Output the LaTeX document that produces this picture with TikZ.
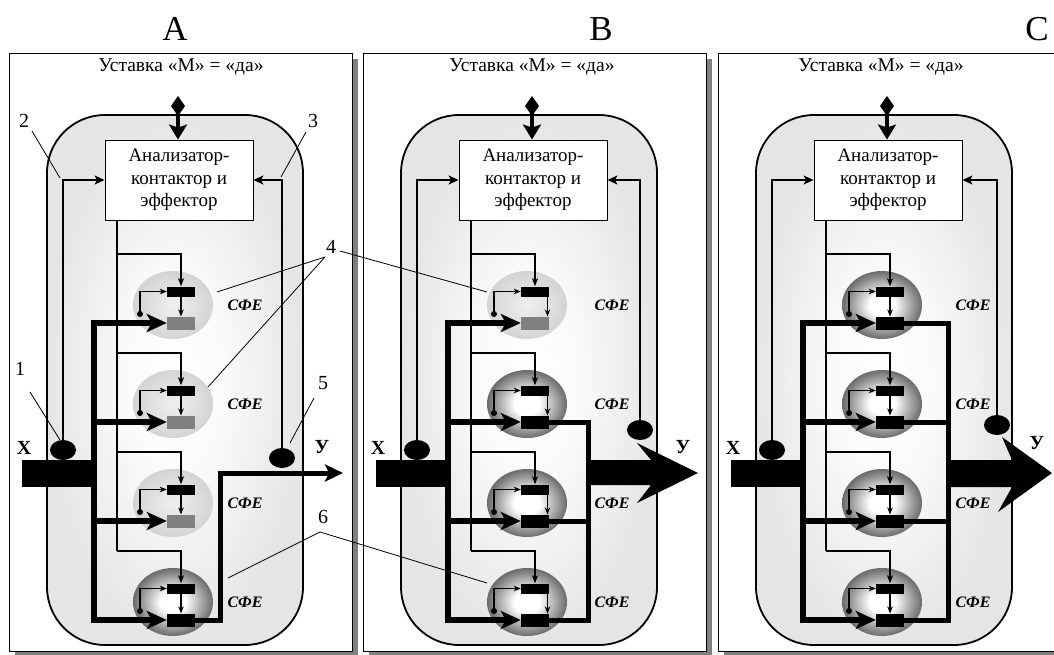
\documentclass[tikz,border=0pt]{standalone}
\usepackage{fontspec}
\setmainfont{Liberation Serif}
\usetikzlibrary{arrows.meta,calc,shapes.geometric}

% soft fills: chamber background, idle and working functional units
\pgfdeclareradialshading{chamber}{\pgfpoint{0bp}{0bp}}{color(0bp)=(white); color(10bp)=(black!2); color(25bp)=(black!10); color(50bp)=(black!10)}
\pgfdeclareradialshading{idleunit}{\pgfpoint{0bp}{0bp}}{color(0bp)=(black!6); color(25bp)=(black!17); color(50bp)=(black!17)}
\pgfdeclareradialshading{workunit}{\pgfpoint{0bp}{0bp}}{color(0bp)=(white); color(8bp)=(white); color(18bp)=(black!35); color(25bp)=(black!58); color(50bp)=(black!58)}

\tikzset{
  panelframe/.style={draw=black,line width=0.9pt,fill=white},
  panelshadow/.style={fill=black!50},
  chamberwall/.style={draw=black,line width=1.8pt,rounded corners=58pt,shading=chamber},
  ctrlbox/.style={draw=black,line width=0.9pt,fill=white,minimum width=148pt,minimum height=80pt,inner sep=0pt,align=center,font=\fontsize{19}{22.5}\selectfont},
  headtext/.style={anchor=base,inner sep=0pt,font=\fontsize{19.5}{22}\selectfont},
  bigletter/.style={anchor=base,inner sep=0pt,font=\fontsize{35}{40}\selectfont},
  numtext/.style={inner sep=0pt,font=\fontsize{20}{22}\selectfont},
  iotext/.style={inner sep=0pt,font=\fontsize{20}{22}\selectfont\bfseries},
  unittext/.style={inner sep=0pt,font=\fontsize{16}{18}\selectfont\bfseries\itshape},
  unitball/.style={ellipse,minimum width=80pt,minimum height=68pt,inner sep=0pt,shade,shading=#1},
  topbar/.style={rectangle,fill=black,minimum width=28pt,minimum height=10pt,inner sep=0pt},
  lowbar/.style={rectangle,fill=#1,minimum width=28pt,minimum height=13pt,inner sep=0pt},
  sensor/.style={ellipse,fill=black,minimum width=26pt,minimum height=20pt,inner sep=0pt},
  xbar/.style={rectangle,fill=black,minimum width=72pt,minimum height=27pt,inner sep=0pt},
  fbline/.style={line width=1.5pt,-{Stealth[length=10pt,width=9pt,inset=2.5pt]}},
  trunkline/.style={line width=2pt},
  tapline/.style={line width=1.3pt,-{Stealth[length=8pt,width=6pt,inset=2pt]}},
  loopline/.style={line width=1.2pt,-{Stealth[length=7pt,width=5.5pt,inset=2pt]}},
  setline/.style={line width=4pt,{Diamond[length=20pt,width=14pt]}-{Stealth[length=15pt,width=18pt,inset=3pt]}},
  busline/.style={line width=6.5pt,line cap=rect},
  feedarrow/.style={line width=6.5pt,-{Stealth[length=20pt,width=18pt,inset=5pt]}},
  outline/.style={line width=5pt,line join=miter},
  leader/.style={line width=0.8pt},
}

% frame, chamber, controller and sensors of one panel
% #1 name, #2 x offset, #3 header x, #4 outlet sensor, #5 outlet label
\newcommand\panelbase[5]{%
  \fill[panelshadow] (#2+15,59) rectangle (#2+358,657);
  \draw[panelframe] (#2+9,53) rectangle (#2+352,651);
  \node[headtext] (#1-head) at (#3,72) {Уставка «М» = «да»};
  \shadedraw[chamberwall] (#2+47,115) rectangle (#2+303,645);
  \node[ctrlbox] (#1-box) at (#2+179,180) {Анализатор-\\контактор и\\эффектор};
  \coordinate (#1-set) at (#2+178,96);
  \draw[setline] (#1-set) -- (#1-set |- #1-box.north);
  \node[xbar] (#1-x) at (#2+58,473.5) {};
  \node[sensor] (#1-s1) at (#2+63,450) {};
  \node[sensor] (#1-s5) at (#4) {};
  \node[iotext] (#1-xl) at (#2+24,448) {X};
  \node[iotext] (#1-yl) at (#5) {У};
  \draw[fbline] (#1-s1.center) |- (#1-box.west);
  \draw[fbline] (#1-s5.center) |- (#1-box.east);
}

% one functional unit with its control tap and input feed
% #1 panel, #2 index, #3 cx, #4 cy, #5 shading, #6 lower bar fill,
% #7 offset of the inner arrow, #8 panel x offset, #9 label x
\newcommand\sfecell[9]{%
  \node[unitball=#5] (#1-u#2) at (#3,#4) {};
  \node[topbar] (#1-t#2) at (#3+8,#4-13.5) {};
  \node[lowbar=#6] (#1-b#2) at (#3+8,#4+18) {};
  \coordinate (#1-p#2) at (#3+8+#7,#4-8.5);
  \coordinate (#1-q#2) at (#3+8+#7,#4+11.5);
  \draw[loopline] (#1-p#2) -- (#1-q#2);
  \coordinate (#1-d#2) at (#3-33,#4+9);
  \fill (#1-d#2) circle (3);
  \draw[loopline] (#1-d#2) |- (#1-t#2.west);
  \node[unittext] (#1-l#2) at (#9,#4) {СФЕ};
  \coordinate (#1-k#2) at (#8+117,#4-51);
  \draw[tapline] (#1-k#2) -| (#1-t#2.north);
  \coordinate (#1-j#2) at (#8+94,#4+18);
  \draw[feedarrow] (#1-j#2) -- (#1-b#2.west);
}

\begin{document}
\begin{tikzpicture}[x=1pt,y=-1pt]
\useasboundingbox (0,0) rectangle (1054,655);
\clip (0,0) rectangle (1054,655);

% ---------- A: one unit working ----------
\panelbase{A}{0}{181}{282,458}{322,447}
\sfecell{A}{1}{173}{305}{idleunit}{black!50}{0}{0}{245}
\sfecell{A}{2}{173}{404}{idleunit}{black!50}{0}{0}{245}
\sfecell{A}{3}{173}{503}{idleunit}{black!50}{0}{0}{245}
\sfecell{A}{4}{173}{602}{workunit}{black}{0}{0}{245}
\coordinate (A-k0) at (117,220);
\draw[trunkline] (A-k0) -- (A-k4);
\draw[busline] (A-j1) -- (A-j4);
\coordinate (A-ov) at (220,473);
\coordinate (A-yt) at (343,473);
\draw[outline,-{Stealth[length=18pt,width=17pt,inset=4pt]}] (A-b4.east) -| (A-ov) -- (A-yt);

% ---------- B: three units working ----------
\panelbase{B}{354}{532}{640,430}{683,447}
\sfecell{B}{1}{527}{305}{idleunit}{black!50}{12.5}{354}{612}
\sfecell{B}{2}{527}{404}{workunit}{black}{12.5}{354}{612}
\sfecell{B}{3}{527}{503}{workunit}{black}{12.5}{354}{612}
\sfecell{B}{4}{527}{602}{workunit}{black}{12.5}{354}{612}
\coordinate (B-k0) at (471,220);
\draw[trunkline] (B-k0) -- (B-k4);
\draw[busline] (B-j1) -- (B-j4);
\coordinate (B-c2) at (588,422);
\coordinate (B-c3) at (588,521);
\coordinate (B-c4) at (588,620);
\draw[outline,line cap=rect] (B-c2) -- (B-c4);
\draw[outline] (B-b2.east) -- (B-c2);
\draw[outline] (B-b3.east) -- (B-c3);
\draw[outline] (B-b4.east) -- (B-c4);
\coordinate (B-yo) at (588,473);
\fill (B-yo) +(0,-13) -- +(63,-13) -- +(49,-30) -- +(110,0) -- +(49,30) -- +(63,12) -- +(0,12) -- cycle;

% ---------- C: all units working ----------
\panelbase{C}{709}{881}{997,425}{1037,443}
\sfecell{C}{1}{882}{305}{workunit}{black}{0}{709}{973}
\sfecell{C}{2}{882}{404}{workunit}{black}{0}{709}{973}
\sfecell{C}{3}{882}{503}{workunit}{black}{0}{709}{973}
\sfecell{C}{4}{882}{602}{workunit}{black}{0}{709}{973}
\coordinate (C-k0) at (826,220);
\draw[trunkline] (C-k0) -- (C-k4);
\draw[busline] (C-j1) -- (C-j4);
\coordinate (C-c1) at (948,323);
\coordinate (C-c2) at (948,422);
\coordinate (C-c3) at (948,521);
\coordinate (C-c4) at (948,620);
\draw[outline,line cap=rect] (C-c1) -- (C-c4);
\draw[outline] (C-b1.east) -- (C-c1);
\draw[outline] (C-b2.east) -- (C-c2);
\draw[outline] (C-b3.east) -- (C-c3);
\draw[outline] (C-b4.east) -- (C-c4);
\coordinate (C-yo) at (948,473);
\fill (C-yo) +(0,-13) -- +(64,-13) -- +(54,-36) -- +(104,0) -- +(50,39) -- +(64,14) -- +(0,14) -- cycle;

% ---------- panel letters ----------
\node[bigletter] (lblA) at (175,41) {A};
\node[bigletter] (lblB) at (601,41) {B};
\node[bigletter] (lblC) at (1037,41) {C};

% ---------- callout numbers ----------
\node[numtext] (n1) at (20,369) {1};
\node[numtext] (n2) at (24,121) {2};
\node[numtext] (n3) at (313,121) {3};
\node[numtext] (n4) at (331,247) {4};
\node[numtext] (n5) at (323,383) {5};
\node[numtext] (n6) at (323,517) {6};
\coordinate (n1a) at (30,392);  \coordinate (n1b) at (60,440);
\coordinate (n2a) at (32,131);  \coordinate (n2b) at (60,178);
\coordinate (n3a) at (306,132); \coordinate (n3b) at (281,177);
\coordinate (n4a) at (325,257); \coordinate (n4b) at (217,292);
\coordinate (n4c) at (208,387); \coordinate (n4d) at (340,251);
\coordinate (n4e) at (487,292);
\coordinate (n5a) at (314,398); \coordinate (n5b) at (290,443);
\coordinate (n6a) at (320,532); \coordinate (n6b) at (228,578);
\coordinate (n6c) at (487,583);
\draw[leader] (n1a) -- (n1b);
\draw[leader] (n2a) -- (n2b);
\draw[leader] (n3a) -- (n3b);
\draw[leader] (n4a) -- (n4b);
\draw[leader] (n4a) -- (n4c);
\draw[leader] (n4d) -- (n4e);
\draw[leader] (n5a) -- (n5b);
\draw[leader] (n6a) -- (n6b);
\draw[leader] (n6a) -- (n6c);
\end{tikzpicture}
\end{document}
